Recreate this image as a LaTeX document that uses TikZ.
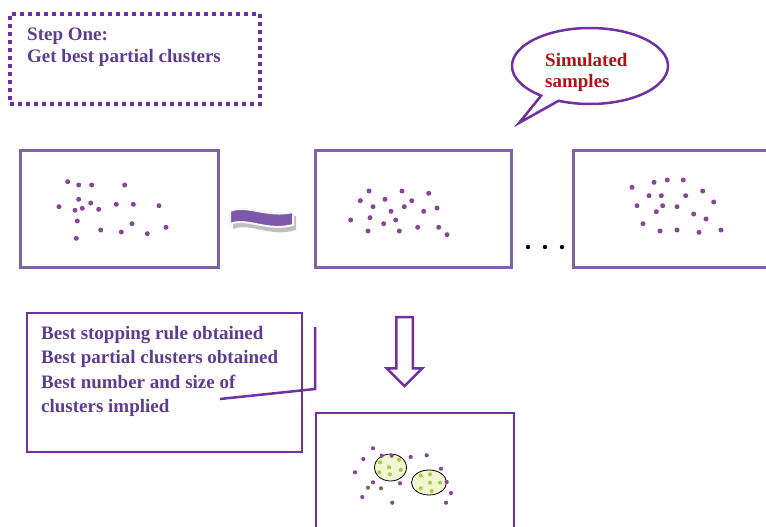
\documentclass[tikz,border=0pt]{standalone}
\usepackage{fontspec}
\setmainfont{Liberation Serif}
\usepackage{xcolor}
\usepackage{tikz}
\definecolor{boxpurple}{RGB}{128, 100, 162}
\definecolor{deeppurple}{RGB}{112, 48, 160}
\definecolor{textpurple}{RGB}{93, 60, 145}
\definecolor{dotpurple}{RGB}{135, 70, 150}
\definecolor{dotbrown}{RGB}{150, 95, 85}
\definecolor{darkred}{RGB}{175, 20, 20}
\definecolor{limefill}{RGB}{242, 247, 210}
\definecolor{limedot}{RGB}{170, 205, 75}
\definecolor{bandpurple}{RGB}{125, 88, 170}
\usetikzlibrary{shapes.geometric, shapes.arrows, shapes.callouts, arrows.meta, positioning, calc}

\begin{document}
\begin{tikzpicture}[x=1pt, y=-1pt,
        samplebox/.style={draw=boxpurple, line width=3pt, minimum height=117pt, inner sep=0pt},
        resultbox/.style={draw=deeppurple, line width=2.5pt, inner sep=0pt},
        note/.style={text=textpurple, font=\bfseries\fontsize{19}{22}\selectfont, align=left, inner sep=0pt, anchor=north west},
        spot/.style={circle, fill=dotpurple, inner sep=0pt, minimum size=5pt},
        smallspot/.style={circle, fill=#1, inner sep=0pt, minimum size=4.2pt}]
    \clip (0,0) rectangle (766,527);

    % step one note
    \node[draw=deeppurple, line width=4pt, dash pattern=on 4pt off 4pt,
          minimum width=250pt, minimum height=90pt, inner sep=0pt] (stepbox) at (135,59) {};
    \node[note] (steptext) at (27,28) {Step One:\\Get best partial clusters};

    % speech bubble
    \node[ellipse callout, draw=deeppurple, line width=2.5pt, fill=white,
          minimum width=156pt, minimum height=76pt,
          callout absolute pointer={(519,123)}] (bubble) at (590,66) {};
    \node[note, text=darkred, font=\bfseries\fontsize{19}{21}\selectfont] (simtext) at (545,53) {Simulated\\samples};

    % observed and simulated samples
    \node[samplebox, minimum width=198pt] (sample0) at (119,208.5) {};
    \node[samplebox, minimum width=196pt] (sampleA) at (413,208.5) {};
    \node[samplebox, minimum width=202pt] (sampleB) at (674,208.5) {};

    \foreach \px/\py in {67.7/181.7, 78.7/185, 91.7/185, 124.7/185, 78.7/199.3, 90.7/203,
                         59/206.7, 75/210.3, 82.3/208.3, 98.7/209.3, 116.3/204.3, 133.3/204.3,
                         159/205.7, 77.3/221, 132/223.7, 100.7/230, 121.3/232, 147.3/233.7,
                         166/227.3, 76.3/238.3}
        \node[spot] at (\px,\py) {};
    \foreach \px/\py in {369/191, 402/191, 428.7/193.3, 360.3/200.7, 385/199.3, 411.7/200.7,
                         373/206.7, 404.3/206.7, 437/208, 391/211.3, 423.7/211.3, 350.7/220,
                         370/217.7, 395.7/220, 383.7/223.7, 368/231, 399.3/231, 417.7/227.3,
                         438.7/227.3, 447/234.7}
        \node[spot] at (\px,\py) {};
    \foreach \px/\py in {632/187.3, 654/182.3, 667.3/180, 683.3/180, 702.7/191, 649/195.7,
                         661.3/195.7, 685.7/195.7, 713.7/202, 637/205.7, 662.7/205.7, 677/206.7,
                         656.3/211.7, 693.7/214, 706/219, 643/223.7, 660/231, 677/230,
                         699/232.3, 721/230}
        \node[spot] at (\px,\py) {};

    % tilde sign
    \fill[gray!50] (233,215) .. controls (250,208) and (270,222) .. (296,216)
        -- (296,230) .. controls (270,238) and (250,222) .. (233,229) -- cycle;
    \fill[bandpurple, draw=white!92!gray, line width=2pt]
        (230,211) .. controls (247,204) and (267,218) .. (293,212)
        -- (293,225) .. controls (267,232) and (247,217) .. (230,224) -- cycle;

    % dots between samples
    \foreach \px in {528,545,562}
        \fill[black] (\px,247) circle [radius=2.2pt];

    % result text box with bracket
    \node[resultbox, minimum width=275pt, minimum height=139pt] (resultbox) at (164.5,382.5) {};
    \node[note, font=\bfseries\fontsize{19}{24.5}\selectfont] (resulttext) at (41,326)
        {Best stopping rule obtained\\Best partial clusters obtained\\Best number and size of\\clusters implied};
    \coordinate (calloutend) at (220,399);
    \coordinate (bracketlow) at (315,389);
    \coordinate (brackettop) at (315,327);
    \draw[deeppurple, line width=2.5pt] (calloutend) -- (bracketlow) -- (brackettop);

    % down arrow and result panel
    \node[single arrow, draw=deeppurple, line width=2.5pt, fill=white, rotate=-90,
          minimum height=69pt, inner sep=7pt, single arrow head extend=9.5pt] (downarrow) at (404.5,347.5) {};
    \node[resultbox, minimum width=198pt, minimum height=127pt] (result) at (415,476.5) {};

    \draw[black, fill=limefill, line width=0.8pt] (390.5,467.5) ellipse [x radius=16pt, y radius=13.5pt];
    \draw[black, fill=limefill, line width=0.8pt] (429,482.5) ellipse [x radius=17.5pt, y radius=12.5pt];
    \foreach \px/\py in {380/462.3, 389/467.3, 399/459.7, 379.3/472.3, 390/474.3, 400.7/470,
                         420.7/475.7, 430/474.3, 420.7/488.3, 430/482.7, 440/482.7, 431.7/491}
        \node[smallspot=limedot] at (\px,\py) {};
    \foreach \px/\py in {373/448.3, 363.3/459, 355/472.3, 410.7/457, 426.7/455.3, 441/468.7,
                         446.7/482, 400/483.3, 373/482.3, 362.3/497, 392.3/502.7, 451/493,
                         446/502.7, 381.7/455.7, 391.7/455.7}
        \node[smallspot=dotpurple] at (\px,\py) {};
    \foreach \px/\py in {368/487.7, 381/488.3}
        \node[smallspot=dotbrown] at (\px,\py) {};
\end{tikzpicture}
\end{document}
